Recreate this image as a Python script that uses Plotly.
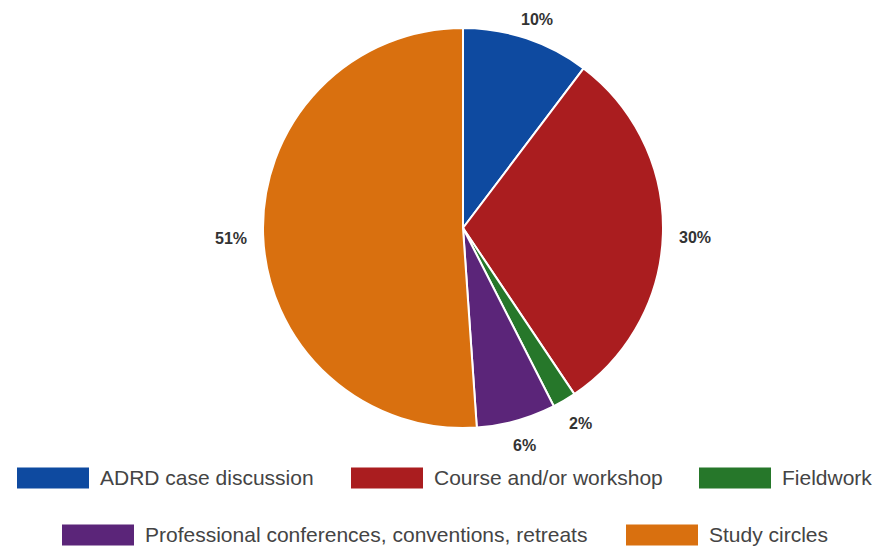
import math
import plotly.graph_objects as go

categories = ["ADRD case discussion", "Course and/or workshop", "Fieldwork",
              "Professional conferences, conventions, retreats", "Study circles"]
values = [10.3, 30.3, 1.9, 6.4, 51.1]
colors = ["#0E4AA0", "#AA1D1F", "#26772A", "#5B2579", "#D9700F"]

W, H = 879, 546
CX, CY, R = 463, 228, 200  # pie geometry in pixels

fig = go.Figure(go.Pie(
    labels=categories, values=values, sort=False, direction="clockwise", rotation=0,
    marker=dict(colors=colors, line=dict(color="white", width=2)),
    textinfo="none",
    domain=dict(x=[(CX - R) / W, (CX + R) / W], y=[1 - (CY + R) / H, 1 - (CY - R) / H]),
    showlegend=False, hoverinfo="label+percent",
))

annotations, shapes = [], []

# outside percentage labels at each slice's mid-angle
total = sum(values)
cum = 0.0
for v in values:
    mid = (cum + v / 2) / total * 2 * math.pi
    cum += v
    ux, uy = math.sin(mid), -math.cos(mid)
    lx = CX + 215 * ux + 17 * ux
    ly = CY + 215 * uy + 8 * uy + 3
    annotations.append(dict(xref="paper", yref="paper", x=lx / W, y=1 - ly / H,
                            xanchor="center", yanchor="middle", showarrow=False,
                            text=f"{round(v / total * 100)}%",
                            font=dict(family="Liberation Sans, Arial", size=16,
                                      color="#333333", weight="bold")))

# custom legend with wide swatches, two rows
legend_x = [17, 351, 699, 62, 626]
legend_y = [478, 478, 478, 535, 535]
for i, name in enumerate(categories):
    x, yc = legend_x[i], legend_y[i]
    shapes.append(dict(type="rect", xref="paper", yref="paper",
                       x0=x / W, x1=(x + 72) / W,
                       y0=1 - (yc + 10.5) / H, y1=1 - (yc - 10.5) / H,
                       fillcolor=colors[i], line=dict(width=0)))
    annotations.append(dict(xref="paper", yref="paper", x=(x + 81) / W, y=1 - (yc - 1) / H,
                            xanchor="left", yanchor="middle", showarrow=False, text=name,
                            font=dict(family="Liberation Sans, Arial", size=21, color="#444444")))

fig.update_layout(
    width=W, height=H, margin=dict(l=0, r=0, t=0, b=0),
    paper_bgcolor="white", plot_bgcolor="white",
    shapes=shapes, annotations=annotations,
)
fig.write_html("out.html", config={"displayModeBar": False},
               post_script="document.body.style.margin='0px';document.body.style.overflow='hidden';")
